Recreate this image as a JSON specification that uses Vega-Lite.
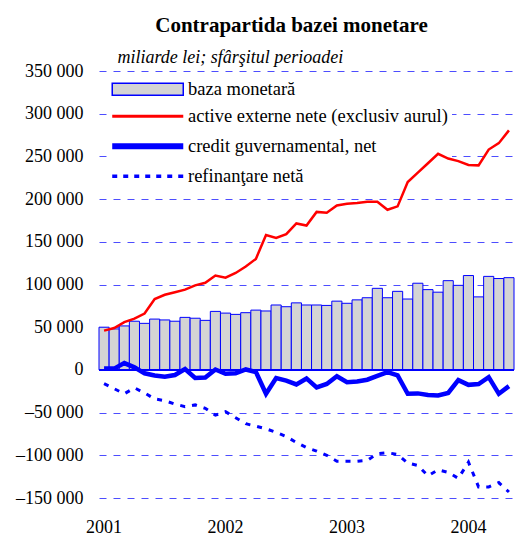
{
  "$schema": "https://vega.github.io/schema/vega-lite/v6.json",
  "padding": {"left": 15, "top": 15, "right": 2, "bottom": 0},
  "background": "white",
  "config": {"view": {"stroke": null}, "font": "Liberation Serif"},
  "data": {
    "values": [
      {"m": "2001-01", "baza": 50000, "activ": 46000, "credit": 1500, "refin": -16000},
      {"m": "2001-02", "baza": 48000, "activ": 49000, "credit": 1500, "refin": -22000},
      {"m": "2001-03", "baza": 51500, "activ": 56000, "credit": 8000, "refin": -28000},
      {"m": "2001-04", "baza": 57000, "activ": 60000, "credit": 3000, "refin": -21000},
      {"m": "2001-05", "baza": 54500, "activ": 66000, "credit": -4000, "refin": -27000},
      {"m": "2001-06", "baza": 59500, "activ": 83000, "credit": -6500, "refin": -34000},
      {"m": "2001-07", "baza": 58500, "activ": 88000, "credit": -8000, "refin": -36000},
      {"m": "2001-08", "baza": 57000, "activ": 91000, "credit": -6000, "refin": -40000},
      {"m": "2001-09", "baza": 61500, "activ": 94000, "credit": 1000, "refin": -43000},
      {"m": "2001-10", "baza": 60500, "activ": 99000, "credit": -9500, "refin": -41000},
      {"m": "2001-11", "baza": 58000, "activ": 102000, "credit": -9000, "refin": -45000},
      {"m": "2001-12", "baza": 68500, "activ": 110500, "credit": 500, "refin": -53000},
      {"m": "2002-01", "baza": 66500, "activ": 108000, "credit": -4500, "refin": -49000},
      {"m": "2002-02", "baza": 65000, "activ": 113500, "credit": -4000, "refin": -56000},
      {"m": "2002-03", "baza": 67000, "activ": 121000, "credit": 500, "refin": -63000},
      {"m": "2002-04", "baza": 70000, "activ": 130000, "credit": -2500, "refin": -66000},
      {"m": "2002-05", "baza": 69000, "activ": 158000, "credit": -28000, "refin": -69000},
      {"m": "2002-06", "baza": 76000, "activ": 154500, "credit": -9500, "refin": -73000},
      {"m": "2002-07", "baza": 74000, "activ": 159000, "credit": -12500, "refin": -78000},
      {"m": "2002-08", "baza": 78500, "activ": 171500, "credit": -17000, "refin": -85000},
      {"m": "2002-09", "baza": 76000, "activ": 169000, "credit": -10000, "refin": -91000},
      {"m": "2002-10", "baza": 76000, "activ": 185000, "credit": -20500, "refin": -95000},
      {"m": "2002-11", "baza": 75500, "activ": 184000, "credit": -16500, "refin": -100000},
      {"m": "2002-12", "baza": 80500, "activ": 192500, "credit": -7500, "refin": -107000},
      {"m": "2003-01", "baza": 78000, "activ": 194500, "credit": -14500, "refin": -107000},
      {"m": "2003-02", "baza": 82000, "activ": 195500, "credit": -13500, "refin": -107000},
      {"m": "2003-03", "baza": 84500, "activ": 197000, "credit": -11500, "refin": -106000},
      {"m": "2003-04", "baza": 95500, "activ": 197000, "credit": -7000, "refin": -98000},
      {"m": "2003-05", "baza": 84500, "activ": 187500, "credit": -2500, "refin": -97000},
      {"m": "2003-06", "baza": 92000, "activ": 191500, "credit": -6500, "refin": -99000},
      {"m": "2003-07", "baza": 83000, "activ": 220000, "credit": -28000, "refin": -109000},
      {"m": "2003-08", "baza": 101500, "activ": 231000, "credit": -27500, "refin": -112000},
      {"m": "2003-09", "baza": 94000, "activ": 242000, "credit": -29500, "refin": -124000},
      {"m": "2003-10", "baza": 91000, "activ": 253000, "credit": -30000, "refin": -117000},
      {"m": "2003-11", "baza": 104500, "activ": 247500, "credit": -27000, "refin": -120000},
      {"m": "2003-12", "baza": 99000, "activ": 244500, "credit": -12000, "refin": -127000},
      {"m": "2004-01", "baza": 110500, "activ": 240000, "credit": -17500, "refin": -108000},
      {"m": "2004-02", "baza": 85500, "activ": 239500, "credit": -16500, "refin": -137000},
      {"m": "2004-03", "baza": 109500, "activ": 258000, "credit": -8500, "refin": -137000},
      {"m": "2004-04", "baza": 107000, "activ": 265500, "credit": -28000, "refin": -132000},
      {"m": "2004-05", "baza": 108000, "activ": 280500, "credit": -19000, "refin": -143000}
    ]
  },
  "concat": [
    {
      "width": 415,
      "height": 427,
      "title": {
        "text": "Contrapartida bazei monetare",
        "anchor": "middle",
        "frame": "group",
        "dx": -15,
        "offset": 12,
        "font": "Liberation Serif",
        "fontSize": 21,
        "fontWeight": "bold",
        "color": "black"
      },
      "layer": [
        {
          "mark": {"type": "bar", "fill": "#d4d4d4", "strokeWidth": 1},
          "encoding": {
            "x": {
              "field": "m", "type": "ordinal",
              "scale": {"paddingInner": 0, "paddingOuter": 0},
              "axis": {
                "title": null, "ticks": false, "domain": false, "grid": false,
                "labelAngle": 0, "labelOverlap": false,
                "labelExpr": "substring(datum.value, 5, 7) == '01' ? substring(datum.value, 0, 4) : ''",
                "labelFont": "Liberation Serif", "labelFontSize": 18, "labelColor": "black",
                "labelPadding": 20
              }
            },
            "y": {
              "field": "baza", "type": "quantitative",
              "title": "miliarde lei; sfârşitul perioadei",
              "scale": {"domain": [-150000, 350000], "nice": false, "zero": false},
              "axis": {
                "values": [-150000, -100000, -50000, 0, 50000, 100000, 150000, 200000, 250000, 300000, 350000],
                "labelExpr": "(datum.value < 0 ? '–' : '') + replace(format(abs(datum.value), ','), ',', ' ')",
                "ticks": false, "domain": false,
                "labelFont": "Liberation Serif", "labelFontSize": 18, "labelColor": "black", "labelPadding": 16,
                "grid": true, "gridColor": "#4d4dff", "gridDash": [7, 7], "gridWidth": 1,
                "titleAngle": 0, "titleAlign": "left", "titleBaseline": "alphabetic",
                "titleX": 18, "titleY": -9,
                "titleFont": "Liberation Serif", "titleFontStyle": "italic", "titleFontWeight": "normal",
                "titleFontSize": 18, "titleColor": "black"
              }
            },
            "stroke": {
              "datum": "baza monetară",
              "scale": {
                "domain": ["baza monetară", "active externe nete (exclusiv aurul)", "credit guvernamental, net", "refinanţare netă"],
                "range": ["#0000ff", "#ff0000", "#0000ff", "#0000ff"]
              },
              "legend": {
                "title": null, "orient": "none", "legendX": 8, "legendY": 5, "direction": "vertical",
                "fillColor": "white", "padding": 4,
                "symbolSize": 144,
                "symbolType": {"expr": "datum.value == 'baza monetară' ? 'M-5.92,-1H5.92V1H-5.92Z' : 'M-5.92,0H5.92'"},
                "symbolStrokeWidth": {"expr": "datum.value == 'baza monetară' ? 1.5 : datum.value == 'credit guvernamental, net' ? 6 : datum.value == 'refinanţare netă' ? 3.5 : 3"},
                "symbolDash": {"expr": "datum.value == 'refinanţare netă' ? [5, 6] : [1, 0]"},
                "symbolFillColor": {"expr": "datum.value == 'baza monetară' ? '#d4d4d4' : 'transparent'"},
                "symbolOffset": 27.5,
                "labelFont": "Liberation Serif", "labelFontSize": 18.5, "labelColor": "black",
                "labelOffset": 31, "rowPadding": 8, "labelLimit": 400,
                "encode": {
                  "symbols": {
                    "shape": {"value": {"expr": "datum.value == 'baza monetară' ? 'M-5.92,-1H5.92V1H-5.92Z' : 'M-5.92,0H5.92'"}},
                    "fill": {"value": {"expr": "datum.value == 'baza monetară' ? '#d4d4d4' : 'transparent'"}},
                    "strokeWidth": {"value": {"expr": "datum.value == 'baza monetară' ? 1.5 : datum.value == 'credit guvernamental, net' ? 6 : datum.value == 'refinanţare netă' ? 3.5 : 3"}},
                    "strokeDash": {"value": {"expr": "datum.value == 'refinanţare netă' ? [5, 6] : [1, 0]"}}
                  }
                }
              }
            }
          }
        },
        {
          "mark": {"type": "rule", "color": "#0000ff", "strokeWidth": 2},
          "encoding": {"y": {"datum": 0, "title": "miliarde lei; sfârşitul perioadei"}}
        }
      ]
    },
    {
      "width": 415,
      "height": 427,
      "layer": [
        {
          "mark": {"type": "line", "strokeWidth": 2.5},
          "encoding": {
            "x": {"field": "m", "type": "ordinal", "bandPosition": 0.5, "axis": null, "scale": {"type": "band", "paddingInner": 0, "paddingOuter": 0}},
            "y": {"field": "activ", "type": "quantitative", "axis": null, "scale": {"domain": [-150000, 350000], "nice": false, "zero": false}},
            "stroke": {
              "datum": "active externe nete (exclusiv aurul)",
              "scale": {
                "domain": ["baza monetară", "active externe nete (exclusiv aurul)", "credit guvernamental, net", "refinanţare netă"],
                "range": ["#0000ff", "#ff0000", "#0000ff", "#0000ff"]
              },
              "legend": null
            }
          }
        },
        {
          "mark": {"type": "line", "strokeWidth": 4.5},
          "encoding": {
            "x": {"field": "m", "type": "ordinal", "bandPosition": 0.5, "axis": null},
            "y": {"field": "credit", "type": "quantitative", "axis": null},
            "stroke": {"datum": "credit guvernamental, net", "legend": null}
          }
        },
        {
          "mark": {"type": "line", "strokeWidth": 3, "strokeDash": [5, 7]},
          "encoding": {
            "x": {"field": "m", "type": "ordinal", "bandPosition": 0.5, "axis": null},
            "y": {"field": "refin", "type": "quantitative", "axis": null},
            "stroke": {"datum": "refinanţare netă", "legend": null}
          }
        }
      ]
    }
  ],
  "columns": 1,
  "align": "none",
  "spacing": -427,
  "bounds": "flush",
  "resolve": {
    "scale": {"x": "independent", "y": "independent", "stroke": "independent"},
    "legend": {"stroke": "independent"}
  }
}
